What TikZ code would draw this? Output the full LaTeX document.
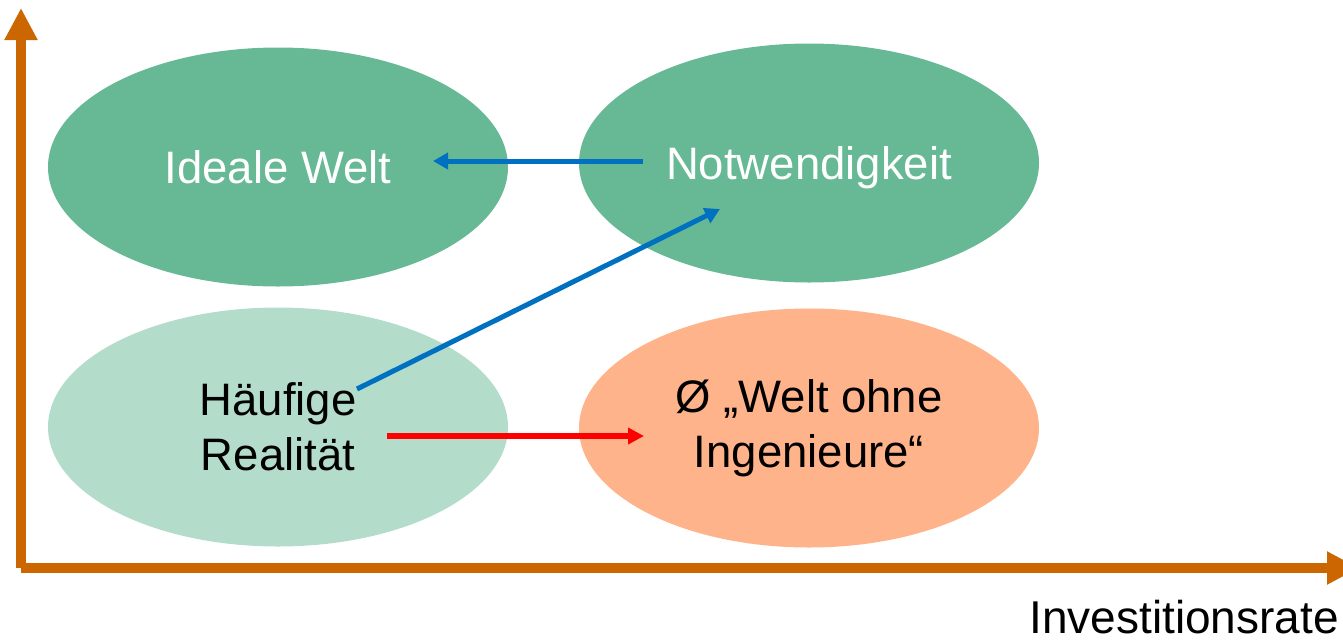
\documentclass[tikz,border=0pt]{standalone}
\usepackage{fontspec}
\setmainfont{Liberation Sans}
\usetikzlibrary{arrows.meta,shapes.geometric}
\definecolor{axisc}{HTML}{CC6600}
\definecolor{darkg}{HTML}{66B994}
\definecolor{lightg}{HTML}{B3DCCA}
\definecolor{peach}{HTML}{FFB38A}
\definecolor{arrblue}{HTML}{0070C0}
\definecolor{arrred}{HTML}{FF0000}
\tikzset{
  blob/.style={ellipse, minimum width=460pt, minimum height=239pt, inner sep=0pt, draw=none, align=center, font=\fontsize{45.5}{55}\selectfont},
  axisline/.style={draw=axisc, line width=10pt, -{Triangle[length=32pt,width=31pt]}},
  bluearrow/.style={draw=arrblue, line width=5pt, -{Triangle[length=15pt,width=16pt]}},
  redarrow/.style={draw=arrred, line width=6pt, -{Triangle[length=16pt,width=16pt]}},
}
\begin{document}
\begin{tikzpicture}[x=1pt,y=-1pt]
\useasboundingbox (0,0) rectangle (1343,641);
\node[blob, fill=darkg, text=white] (ideal) at (278,167) {Ideale Welt};
\node[blob, fill=darkg, text=white, text depth=0pt] (notw) at (809,163) {Notwendigkeit};
\node[blob, fill=lightg, text=black] (haeuf) at (278,427) {Häufige\\Realität};
\node[blob, fill=peach, text=black] (ohne) at (809,428) {Ø „Welt ohne\\Ingenieure“};
\coordinate (origin) at (21,568);
\coordinate (ytop) at (21,8);
\coordinate (xend) at (1359,568);
\draw[axisline] (origin) -- (ytop);
\draw[axisline] (origin) -- (xend);
\node[anchor=base east, font=\fontsize{46}{55}\selectfont, inner sep=0pt] (xlabel) at (1339,633) {Investitionsrate};
\coordinate (nstart) at (643,161);
\coordinate (iend) at (433,161);
\draw[bluearrow] (nstart) -- (iend);
\coordinate (hstart) at (357,389);
\coordinate (nend) at (720,209);
\draw[bluearrow] (hstart) -- (nend);
\coordinate (rstart) at (387,436);
\coordinate (oend) at (644,436);
\draw[redarrow] (rstart) -- (oend);
\end{tikzpicture}
\end{document}
